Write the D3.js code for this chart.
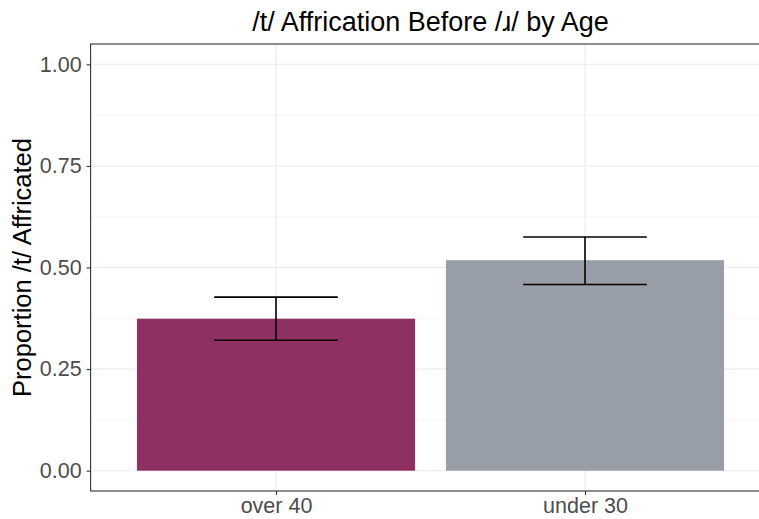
<!DOCTYPE html>
<html>
<head>
<meta charset="utf-8">
<script src="https://cdn.jsdelivr.net/npm/d3@7"></script>
<style>
  body { margin: 0; background: #fff; }
  text { font-family: "Liberation Sans", Arial, sans-serif; }
</style>
</head>
<body>
<div id="chart"></div>
<script>
const categories = ['over 40', 'under 30'];
const proportions = [0.374, 0.518];
const errLow = [0.321, 0.458];
const errHigh = [0.427, 0.575];
const barColors = ['#8e3162', '#979ea8'];
const yTicks = [0, 0.25, 0.5, 0.75, 1];
const yMinor = [0.125, 0.375, 0.625, 0.875];

const width = 759, height = 519;
const margin = { top: 44, right: -11.4, bottom: 28, left: 90.6 };
const innerW = width - margin.left - margin.right;
const innerH = height - margin.top - margin.bottom;

const svg = d3.select('#chart').append('svg')
  .attr('width', width)
  .attr('height', height);

const g = svg.append('g')
  .attr('transform', `translate(${margin.left},${margin.top})`);

// discrete x like ggplot: positions 1..n, expansion 0.6
const xPos = d3.scaleLinear().domain([0.4, categories.length + 0.6]).range([0, innerW]);
const band = xPos(2) - xPos(1);
const y = d3.scaleLinear().domain([-0.05, 1.05]).range([innerH, 0]);

// grid
g.selectAll('.minor').data(yMinor).enter().append('line')
  .attr('x1', 0).attr('x2', innerW)
  .attr('y1', d => y(d)).attr('y2', d => y(d))
  .attr('stroke', '#ebebeb').attr('stroke-width', 0.55);
g.selectAll('.major').data(yTicks).enter().append('line')
  .attr('x1', 0).attr('x2', innerW)
  .attr('y1', d => y(d)).attr('y2', d => y(d))
  .attr('stroke', '#ebebeb').attr('stroke-width', 1.1);
g.selectAll('.vmajor').data(categories).enter().append('line')
  .attr('x1', (d, i) => xPos(i + 1)).attr('x2', (d, i) => xPos(i + 1))
  .attr('y1', 0).attr('y2', innerH)
  .attr('stroke', '#ebebeb').attr('stroke-width', 1.1);

// bars
g.selectAll('.bar').data(categories).enter().append('rect')
  .attr('x', (d, i) => xPos(i + 1) - band * 0.45)
  .attr('width', band * 0.9)
  .attr('y', (d, i) => y(proportions[i]))
  .attr('height', (d, i) => y(0) - y(proportions[i]))
  .attr('fill', (d, i) => barColors[i]);

// error bars
const eb = g.selectAll('.err').data(categories).enter().append('g')
  .attr('stroke', '#000').attr('stroke-width', 1.6).attr('fill', 'none');
eb.append('line')
  .attr('x1', (d, i) => xPos(i + 1)).attr('x2', (d, i) => xPos(i + 1))
  .attr('y1', (d, i) => y(errLow[i])).attr('y2', (d, i) => y(errHigh[i]));
eb.append('line')
  .attr('x1', (d, i) => xPos(i + 1) - band * 0.2).attr('x2', (d, i) => xPos(i + 1) + band * 0.2)
  .attr('y1', (d, i) => y(errLow[i])).attr('y2', (d, i) => y(errLow[i]));
eb.append('line')
  .attr('x1', (d, i) => xPos(i + 1) - band * 0.2).attr('x2', (d, i) => xPos(i + 1) + band * 0.2)
  .attr('y1', (d, i) => y(errHigh[i])).attr('y2', (d, i) => y(errHigh[i]));

// panel border
g.append('rect')
  .attr('x', 0).attr('y', 0).attr('width', innerW).attr('height', innerH)
  .attr('fill', 'none').attr('stroke', '#333').attr('stroke-width', 1.1);

// axes
const yAxis = d3.axisLeft(y).tickValues(yTicks).tickFormat(d3.format('.2f'))
  .tickSize(4).tickPadding(5);
const yg = g.append('g').call(yAxis);
const xAxis = d3.axisBottom(xPos).tickValues([1, 2]).tickFormat((d, i) => categories[i])
  .tickSize(4).tickPadding(3);
const xg = g.append('g').attr('transform', `translate(0,${innerH})`).call(xAxis);
[yg, xg].forEach(a => {
  a.select('.domain').remove();
  a.selectAll('.tick line').attr('stroke', '#333').attr('stroke-width', 1.1);
  a.selectAll('.tick text').attr('fill', '#4d4d4d').style('font-size', '21.5px')
    .style('font-family', '"Liberation Sans", Arial, sans-serif');
});

// titles
svg.append('text')
  .attr('x', margin.left + innerW / 2).attr('y', 31)
  .attr('text-anchor', 'middle')
  .style('font-size', '27px').attr('fill', '#000')
  .text('/t/ Affrication Before /ɹ/ by Age');

svg.append('text')
  .attr('transform', `translate(31,${margin.top + innerH / 2}) rotate(-90)`)
  .attr('text-anchor', 'middle')
  .style('font-size', '25.5px').attr('fill', '#000')
  .text('Proportion /t/ Affricated');
</script>
</body>
</html>
